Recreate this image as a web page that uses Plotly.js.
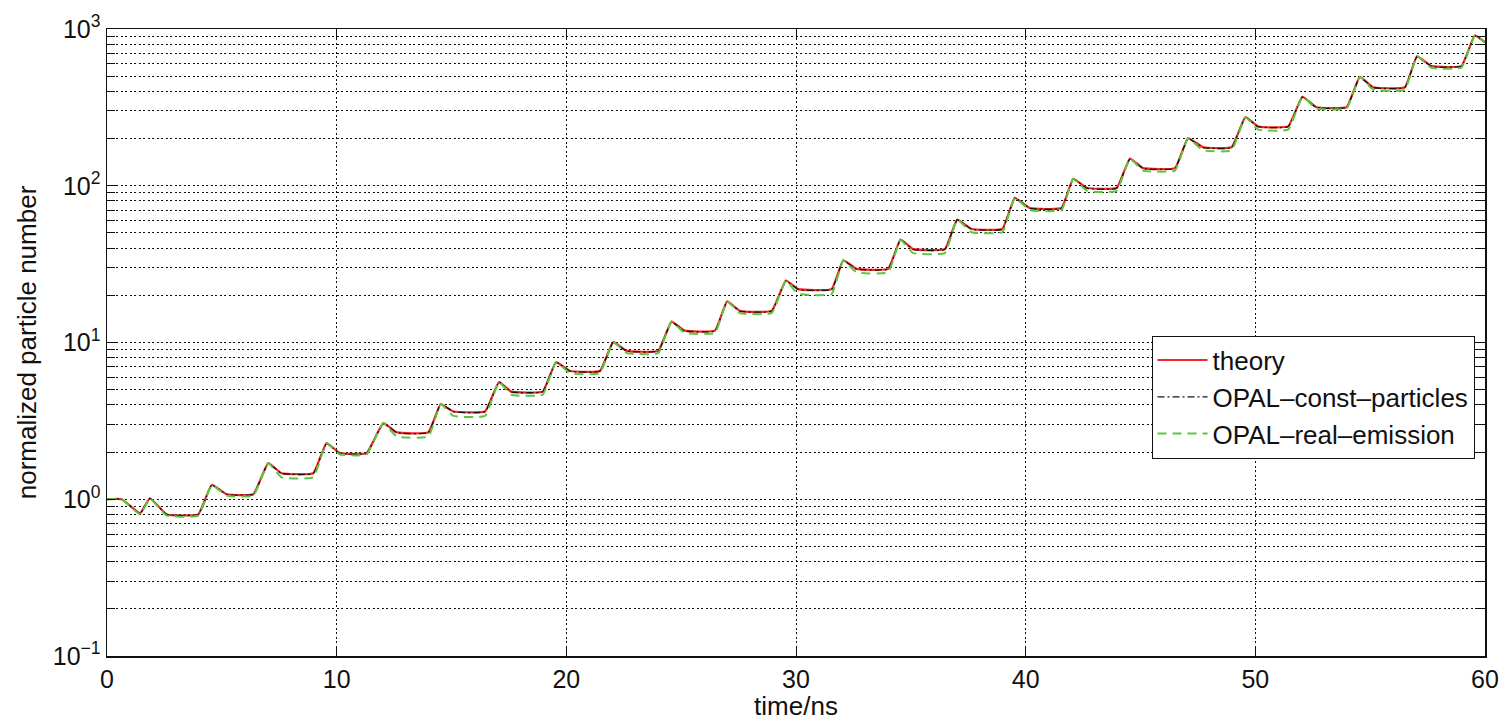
<!DOCTYPE html>
<html>
<head>
<meta charset="utf-8">
<script src="https://cdn.plot.ly/plotly-3.0.1.min.js"></script>
<style>
  html, body { margin: 0; padding: 0; background: #fff; }
  #plot { width: 1509px; height: 721px; }
</style>
</head>
<body>
<div id="plot"></div>
<script>
// Sample times (ns) shared by the three curves
const timeNs = [
  0, 0.64, 1.44, 1.87, 2.6,
  3.97, 4.56, 5.21, 6.37,
  7.02, 7.6, 8.98,
  9.56, 10.14, 11.3,
  12.03, 12.62, 13.99,
  14.53, 15.08, 16.46,
  17.07, 17.6, 18.97,
  19.55, 20.16, 21.46,
  22.04, 22.63, 24.0,
  24.58, 25.15, 26.47,
  27.0, 27.56, 28.94,
  29.56, 30.1, 31.55,
  32.06, 32.64, 34.01,
  34.55, 35.1, 36.48,
  37.02, 37.64, 38.98,
  39.53, 40.18, 41.56,
  42.07, 42.68, 43.96,
  44.54, 45.11, 46.5,
  47.07, 47.73, 48.96,
  49.57, 50.12, 51.43,
  52.05, 52.66, 53.97,
  54.55, 55.13, 56.51,
  57.04, 57.67, 58.97,
  59.56, 60
];

// Normalized particle number, analytic model
const theory = [
  1.0, 1.0, 0.814, 1.015, 0.80,
  0.80, 1.234, 1.076, 1.076,
  1.70, 1.466, 1.466,
  2.28, 1.97, 1.97,
  3.06, 2.67, 2.67,
  4.05, 3.63, 3.63,
  5.59, 4.86, 4.86,
  7.5, 6.58, 6.58,
  10.06, 8.85, 8.85,
  13.6, 11.9, 11.9,
  18.3, 15.9, 15.9,
  24.8, 21.9, 21.9,
  33.4, 29.5, 29.5,
  45.3, 39.4, 39.4,
  60.8, 53, 53,
  83.7, 72.1, 72.1,
  110.9, 96.7, 96.7,
  149, 129.6, 129.6,
  201, 176, 176,
  274, 239, 239,
  369, 317, 317,
  495, 425, 425,
  670, 580, 580,
  910, 823
];

// OPAL run with a constant number of particles
const constParticles = [
  1.0, 1.0, 0.812, 1.012, 0.80,
  0.80, 1.23, 1.075, 1.075,
  1.69, 1.46, 1.46,
  2.27, 1.96, 1.96,
  3.05, 2.66, 2.66,
  4.03, 3.62, 3.62,
  5.57, 4.85, 4.85,
  7.48, 6.56, 6.56,
  10.0, 8.82, 8.82,
  13.5, 11.85, 11.85,
  18.2, 15.85, 15.85,
  24.7, 21.8, 21.8,
  33.3, 29.4, 29.4,
  45.1, 39.2, 39.2,
  60.5, 52.8, 52.8,
  83.3, 71.8, 71.8,
  110.4, 96.3, 96.3,
  148, 129, 129,
  200, 175, 175,
  273, 238, 238,
  367, 316, 316,
  493, 423, 423,
  667, 578, 578,
  905, 820
];

// OPAL run with real emission
const realEmission = [
  1.0, 1.0, 0.80, 1.01, 0.786,
  0.786, 1.234, 1.054, 1.054,
  1.70, 1.38, 1.38,
  2.28, 1.93, 1.93,
  3.06, 2.51, 2.51,
  4.05, 3.40, 3.40,
  5.59, 4.64, 4.64,
  7.5, 6.37, 6.37,
  10.06, 8.55, 8.55,
  13.6, 11.5, 11.5,
  18.3, 15.4, 15.4,
  24.8, 20.4, 20.4,
  33.4, 28.0, 28.0,
  45.3, 37.2, 37.2,
  60.8, 50.5, 50.5,
  83.7, 69.9, 69.9,
  110.9, 92.7, 92.7,
  149, 125, 125,
  201, 168, 168,
  274, 228, 228,
  369, 311, 311,
  495, 410, 410,
  670, 566, 566,
  910, 823
];

const seriesNames = ['theory', 'OPAL\u2013const\u2013particles', 'OPAL\u2013real\u2013emission'];

const xTickVals = [0, 10, 20, 30, 40, 50, 60];
const yTickVals = [0.1, 1, 10, 100, 1000];
const yTickText = ['10<sup>\u22121</sup>', '10<sup>0</sup>', '10<sup>1</sup>', '10<sup>2</sup>', '10<sup>3</sup>'];

// minor ticks at 2..9 of each decade
const yMinorVals = [];
for (const dec of [0.1, 1, 10, 100]) {
  for (let k = 2; k <= 9; k++) yMinorVals.push(+(k * dec).toPrecision(3));
}

const FONT = 'Liberation Sans, Arial, Helvetica, sans-serif';
const INK = '#111';
const GRID_DASH = '2px,2.5px';
const TICK_SIZE = 25;
const LABEL_SIZE = 26;

const traces = [
  {
    x: timeNs, y: theory, name: seriesNames[0], type: 'scatter', mode: 'lines',
    line: { color: 'rgb(240,40,40)', width: 2.2, shape: 'spline', smoothing: 0.35 }, legendgroup: 'a'
  },
  {
    x: timeNs, y: constParticles, name: seriesNames[1], type: 'scatter', mode: 'lines',
    line: { color: 'rgb(20,20,20)', width: 1.3, dash: '7px,3px,2px,3px', shape: 'spline', smoothing: 0.35 }, legendgroup: 'b'
  },
  {
    x: timeNs, y: realEmission, name: seriesNames[2], type: 'scatter', mode: 'lines',
    line: { color: 'rgb(90,200,60)', width: 2, dash: '9px,6px', shape: 'spline', smoothing: 0.35 }, legendgroup: 'c'
  }
];

const layout = {
  width: 1509,
  height: 721,
  margin: { l: 107, r: 24, t: 29, b: 65 },
  paper_bgcolor: '#fff',
  plot_bgcolor: '#fff',
  font: { family: FONT, size: LABEL_SIZE, color: INK },
  showlegend: true,
  legend: {
    x: 0.758, y: 0.511, xanchor: 'left', yanchor: 'top',
    bgcolor: '#fff', bordercolor: INK, borderwidth: 1,
    font: { family: FONT, size: LABEL_SIZE, color: INK },
    traceorder: 'grouped', tracegroupgap: 0,
    itemwidth: 50
  },
  xaxis: {
    range: [0, 60],
    tickmode: 'array', tickvals: xTickVals,
    ticks: 'inside', ticklen: 9, tickcolor: INK,
    showline: true, linecolor: INK, linewidth: 1.5, mirror: 'allticks',
    showgrid: true, gridcolor: INK, gridwidth: 1, griddash: GRID_DASH,
    zeroline: false,
    tickfont: { family: FONT, size: TICK_SIZE, color: INK },
    title: { text: 'time/ns', font: { family: FONT, size: LABEL_SIZE, color: INK }, standoff: 8 }
  },
  yaxis: {
    type: 'log',
    range: [-1, 3],
    tickmode: 'array', tickvals: yTickVals, ticktext: yTickText,
    ticks: 'inside', ticklen: 9, tickcolor: INK,
    showline: true, linecolor: INK, linewidth: 1.5, mirror: 'allticks',
    showgrid: true, gridcolor: INK, gridwidth: 1, griddash: GRID_DASH,
    zeroline: false,
    minor: {
      tickmode: 'array', tickvals: yMinorVals,
      ticks: 'inside', ticklen: 8, tickcolor: INK,
      showgrid: true, gridcolor: INK, gridwidth: 1, griddash: GRID_DASH
    },
    tickfont: { family: FONT, size: TICK_SIZE, color: INK },
    title: { text: 'normalized particle number', font: { family: FONT, size: LABEL_SIZE, color: INK }, standoff: 8 }
  }
};

Plotly.newPlot('plot', traces, layout, { displayModeBar: false, staticPlot: true });
</script>
</body>
</html>
